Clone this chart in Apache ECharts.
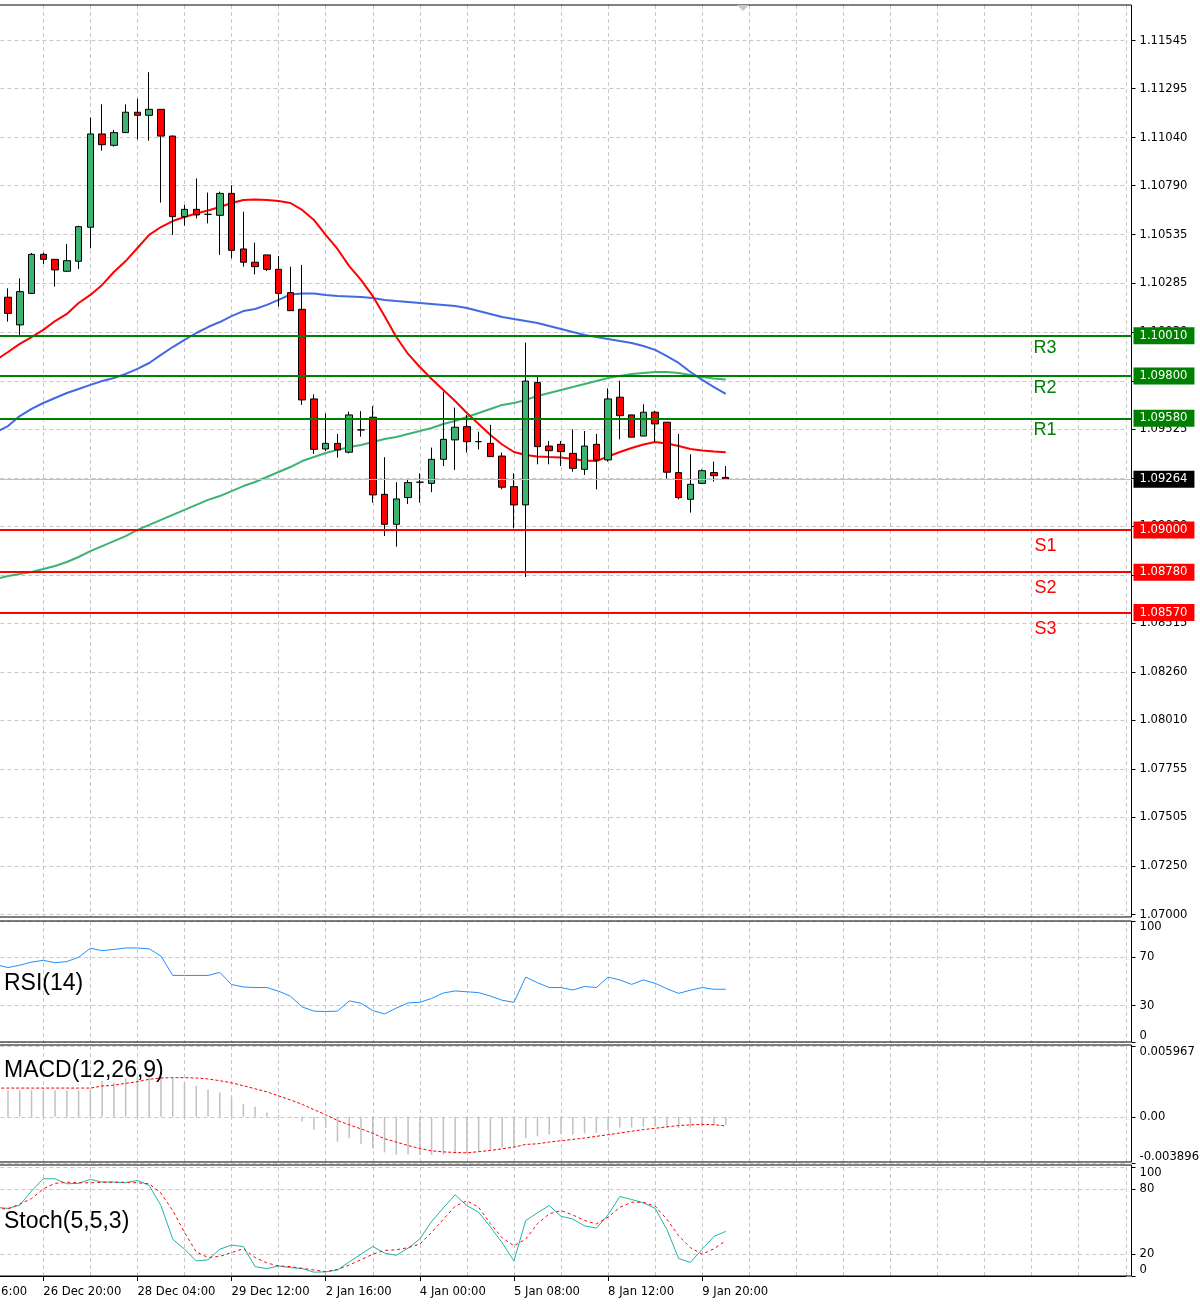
<!DOCTYPE html>
<html>
<head>
<meta charset="utf-8">
<script src="https://cdn.jsdelivr.net/npm/echarts@6/dist/echarts.min.js"></script>
<style>html,body{margin:0;padding:0;background:#fff}#c{width:1200px;height:1310px}</style>
</head>
<body>
<div id="c"></div>
<script>
// ---------------- DATA ----------------
// x axis: one category per 4H bar; bar k=0 is the first visible candle
const xLabels = ['22 Dec 16:00', '26 Dec 20:00', '28 Dec 04:00', '29 Dec 12:00', '2 Jan 16:00',
  '4 Jan 00:00', '5 Jan 08:00', '8 Jan 12:00', '9 Jan 20:00'];

// candles, k = 0..61
const candleOpen = [1.10210, 1.10066, 1.10230, 1.10433, 1.10407, 1.10345, 1.10397, 1.10574, 1.11059, 1.11000,
  1.11066, 1.11172, 1.11156, 1.11187, 1.11048, 1.10629, 1.10667, 1.10641, 1.10636, 1.10750,
  1.10461, 1.10392, 1.10430, 1.10355, 1.10234, 1.10147, 1.09681, 1.09421, 1.09450, 1.09404,
  1.09520, 1.09586, 1.09185, 1.09029, 1.09168, 1.09248, 1.09242, 1.09367, 1.09468, 1.09537,
  1.09459, 1.09450, 1.09384, 1.09225, 1.09130, 1.09766, 1.09436, 1.09445, 1.09398, 1.09315,
  1.09445, 1.09364, 1.09690, 1.09598, 1.09488, 1.09612, 1.09560, 1.09298, 1.09159, 1.09242,
  1.09298, 1.09273];
const candleClose = [1.10126, 1.10239, 1.10433, 1.10407, 1.10352, 1.10400, 1.10577, 1.11059, 1.11003, 1.11066,
  1.11172, 1.11156, 1.11187, 1.11048, 1.10629, 1.10667, 1.10638, 1.10641, 1.10750, 1.10454,
  1.10392, 1.10369, 1.10355, 1.10230, 1.10140, 1.09676, 1.09419, 1.09450, 1.09416, 1.09598,
  1.09520, 1.09182, 1.09029, 1.09161, 1.09246, 1.09248, 1.09367, 1.09471, 1.09534, 1.09459,
  1.09459, 1.09381, 1.09222, 1.09130, 1.09774, 1.09433, 1.09412, 1.09407, 1.09320, 1.09436,
  1.09364, 1.09681, 1.09594, 1.09482, 1.09612, 1.09551, 1.09300, 1.09168, 1.09237, 1.09308,
  1.09282, 1.09264];
const candleLow = [1.10083, 1.10014, 1.10227, 1.10383, 1.10265, 1.10341, 1.10357, 1.10464, 1.10972, 1.10993,
  1.11064, 1.11031, 1.11024, 1.10702, 1.10534, 1.10582, 1.10620, 1.10594, 1.10430, 1.10412,
  1.10369, 1.10329, 1.10346, 1.10161, 1.10140, 1.09650, 1.09395, 1.09410, 1.09376, 1.09398,
  1.09485, 1.09142, 1.08968, 1.08913, 1.09135, 1.09142, 1.09196, 1.09332, 1.09312, 1.09402,
  1.09419, 1.09381, 1.09211, 1.09008, 1.08755, 1.09341, 1.09341, 1.09332, 1.09303, 1.09286,
  1.09211, 1.09355, 1.09471, 1.09482, 1.09488, 1.09459, 1.09268, 1.09159, 1.09090, 1.09239,
  1.09251, 1.09260];
const candleHigh = [1.10256, 1.10308, 1.10440, 1.10442, 1.10409, 1.10487, 1.10582, 1.11144, 1.11213, 1.11080,
  1.11213, 1.11242, 1.11380, 1.11189, 1.11051, 1.10690, 1.10828, 1.10754, 1.10759, 1.10792,
  1.10655, 1.10494, 1.10430, 1.10424, 1.10369, 1.10378, 1.09705, 1.09606, 1.09499, 1.09615,
  1.09618, 1.09644, 1.09378, 1.09248, 1.09263, 1.09294, 1.09428, 1.09719, 1.09636, 1.09598,
  1.09511, 1.09546, 1.09402, 1.09294, 1.09974, 1.09800, 1.09462, 1.09462, 1.09523, 1.09514,
  1.09499, 1.09736, 1.09776, 1.09598, 1.09653, 1.09620, 1.09560, 1.09499, 1.09393, 1.09315,
  1.09355, 1.09332];

// moving averages, k = -1..61
const maRed = [1.09884, 1.09925, 1.09967, 1.10003, 1.10040, 1.10086, 1.10123, 1.10180, 1.10222, 1.10274,
  1.10341, 1.10398, 1.10466, 1.10534, 1.10575, 1.10606, 1.10627, 1.10645, 1.10661, 1.10679,
  1.10700, 1.10716, 1.10718, 1.10716, 1.10710, 1.10700, 1.10664, 1.10612, 1.10534, 1.10461,
  1.10372, 1.10300, 1.10216, 1.10112, 1.10003, 1.09915, 1.09847, 1.09785, 1.09728, 1.09670,
  1.09608, 1.09551, 1.09494, 1.09444, 1.09405, 1.09390, 1.09382, 1.09379, 1.09377, 1.09369,
  1.09361, 1.09358, 1.09382, 1.09405, 1.09426, 1.09444, 1.09457, 1.09449, 1.09436, 1.09421,
  1.09413, 1.09408, 1.09404];
const maBlue = [1.09509, 1.09540, 1.09592, 1.09629, 1.09660, 1.09686, 1.09712, 1.09733, 1.09754, 1.09774,
  1.09790, 1.09811, 1.09837, 1.09868, 1.09910, 1.09951, 1.09988, 1.10024, 1.10055, 1.10081,
  1.10112, 1.10138, 1.10149, 1.10170, 1.10196, 1.10224, 1.10229, 1.10229, 1.10222, 1.10216,
  1.10214, 1.10211, 1.10206, 1.10196, 1.10190, 1.10185, 1.10180, 1.10175, 1.10170, 1.10164,
  1.10154, 1.10138, 1.10123, 1.10107, 1.10097, 1.10086, 1.10076, 1.10060, 1.10045, 1.10029,
  1.10014, 1.10003, 1.09993, 1.09982, 1.09972, 1.09956, 1.09936, 1.09904, 1.09868, 1.09821,
  1.09780, 1.09743, 1.09707];
const maGreen = [1.08745, 1.08760, 1.08771, 1.08781, 1.08797, 1.08812, 1.08833, 1.08859, 1.08890, 1.08916,
  1.08942, 1.08968, 1.09000, 1.09026, 1.09052, 1.09078, 1.09104, 1.09130, 1.09156, 1.09176,
  1.09202, 1.09228, 1.09249, 1.09275, 1.09301, 1.09327, 1.09358, 1.09379, 1.09400, 1.09416,
  1.09431, 1.09442, 1.09457, 1.09473, 1.09483, 1.09499, 1.09514, 1.09530, 1.09551, 1.09566,
  1.09587, 1.09608, 1.09629, 1.09650, 1.09660, 1.09676, 1.09696, 1.09712, 1.09728, 1.09743,
  1.09759, 1.09774, 1.09790, 1.09800, 1.09811, 1.09816, 1.09821, 1.09821, 1.09816, 1.09806,
  1.09795, 1.09787, 1.09782];

// pivot levels and last price
const levelNames = ['R3', 'R2', 'R1', 'S1', 'S2', 'S3'];
const levelValues = [1.10010, 1.09800, 1.09580, 1.09000, 1.08780, 1.08570];
const lastPrice = 1.09264;

// price axis tick labels
const priceTicks = [1.07000, 1.07250, 1.07505, 1.07755, 1.08010, 1.08260, 1.08515, 1.08765, 1.09020, 1.09270,
  1.09525, 1.09775, 1.10030, 1.10285, 1.10535, 1.10790, 1.11040, 1.11295, 1.11545];

// RSI(14), k = -1..61
const rsiValues = [64, 61.5, 63.5, 66, 67.5, 65.5, 66.5, 70, 77.5, 75.5,
  76.5, 77.7, 77.7, 77, 71, 55, 55, 55, 55, 57.5,
  47.5, 45.5, 45, 45, 42, 37.9, 29, 25.5, 25.2, 25.5,
  34, 32, 26, 23.2, 28, 32.3, 32.8, 36, 40.5, 42.2,
  41.5, 40.8, 38, 34.5, 32.8, 53.6, 49, 45, 45, 43,
  45.9, 45, 53.6, 51.3, 47.6, 51.3, 48.5, 44, 40.2, 42.8,
  45, 43.6, 43.6];
const rsiTicks = [0, 30, 70, 100];

// MACD(12,26,9): main histogram k = 0..61, signal k = -1..61
const macdMain = [0.00222, 0.00222, 0.00222, 0.00222, 0.00222, 0.00222, 0.00222, 0.00226, 0.00301, 0.00290,
  0.00325, 0.00336, 0.00341, 0.00336, 0.00327, 0.00284, 0.00262, 0.00230, 0.00205, 0.00165,
  0.00108, 0.00085, 0.00037, 0.00014, 0.00003, -0.00040, -0.00110, -0.00095, -0.00210, -0.00180,
  -0.00230, -0.00265, -0.00300, -0.00320, -0.00318, -0.00320, -0.00322, -0.00318, -0.00310, -0.00305,
  -0.00290, -0.00280, -0.00262, -0.00250, -0.00180, -0.00165, -0.00150, -0.00148, -0.00150, -0.00140,
  -0.00135, -0.00110, -0.00090, -0.00090, -0.00085, -0.00080, -0.00090, -0.00095, -0.00090, -0.00080,
  -0.00072, -0.00068];
const macdSignal = [0.00242, 0.00242, 0.00242, 0.00242, 0.00242, 0.00242, 0.00242, 0.00242, 0.00242, 0.00259,
  0.00266, 0.00282, 0.00296, 0.00316, 0.00327, 0.00330, 0.00330, 0.00327, 0.00319, 0.00304,
  0.00286, 0.00262, 0.00236, 0.00210, 0.00176, 0.00142, 0.00105, 0.00060, 0.00017, -0.00031,
  -0.00068, -0.00102, -0.00139, -0.00185, -0.00213, -0.00242, -0.00267, -0.00287, -0.00296, -0.00301,
  -0.00304, -0.00294, -0.00284, -0.00270, -0.00256, -0.00233, -0.00228, -0.00213, -0.00202, -0.00191,
  -0.00179, -0.00165, -0.00151, -0.00137, -0.00122, -0.00108, -0.00097, -0.00085, -0.00074, -0.00068,
  -0.00064, -0.00067, -0.00077];
const macdTicks = [-0.003896, 0, 0.005967];

// Stochastic(5,5,3), k = -1..61
const stochMain = [63, 62, 65, 78, 89.2, 89.2, 84.6, 85, 88.6, 86.2,
  86.2, 85.5, 87.7, 83, 64.6, 33.8, 24.6, 13.8, 14.8, 24.6,
  28.3, 27, 8.6, 6.8, 9.2, 7.7, 6.8, 3.5, 3.8, 5.5,
  12.9, 20, 27.1, 21, 19, 25.5, 34, 50, 62.5, 74.5,
  64.6, 58.5, 45, 30.5, 13.8, 50.8, 58, 64.6, 54.8, 52.3,
  46, 44, 56, 73, 70.2, 67.1, 62, 42.6, 16, 12.5,
  24.6, 36.3, 40.9];
const stochSignal = [62, 61.5, 66, 71, 80, 85, 86, 85.5, 85.5, 86,
  86, 86, 85.5, 84.6, 76, 60, 40, 22, 17, 18,
  21.5, 25, 17, 12, 9.2, 8.6, 7, 5.5, 4, 6,
  10, 15, 20, 23.5, 24, 26, 29.2, 40, 52, 64,
  69, 63, 48, 35, 27.7, 33.8, 48, 57, 60, 56,
  51, 47.7, 54, 63, 67.7, 67.7, 64, 52, 36.9, 26,
  20, 25, 32.3];
const stochTicks = [0, 20, 80, 100];

// ---------------- LAYOUT ----------------
const FIRST_K = -6, LAST_K = 95;           // category range of the x axis
const N = LAST_K - FIRST_K + 1;
const LABEL_START_K = -5, LABEL_STEP = 8, GRID_STEP = 4;
const idx = k => k - FIRST_K;

const categories = [];
for (let k = FIRST_K; k <= LAST_K; k++) {
  const j = (k - LABEL_START_K) / LABEL_STEP;
  categories.push(Number.isInteger(j) && j >= 0 && j < xLabels.length ? xLabels[j] : '');
}
function pad(arr, startK) {
  const out = new Array(N).fill(null);
  arr.forEach((v, i) => { out[idx(startK + i)] = v; });
  return out;
}

const PLOT_LEFT = -62.6, PLOT_WIDTH = 1188.4;
const FRAME_LEFT = -2, FRAME_RIGHT = 1131.5;
const AXIS_OFFSET = FRAME_RIGHT - (PLOT_LEFT + PLOT_WIDTH);
const frames = [{top: 5, h: 912}, {top: 921, h: 121}, {top: 1045, h: 117}, {top: 1165, h: 111}];
const plots  = [{top: 5, h: 912}, {top: 921, h: 121}, {top: 1046, h: 117}, {top: 1167, h: 109}];

// main price scale: 1.11545 at y=40.5, 1.07000 at y=914.5
const PX = (1.11545 - 1.07) / (914.5 - 40.5);
const PRICE_MAX = 1.11545 + (40.5 - 5) * PX;
const PRICE_MIN = 1.07 - (917 - 914.5) * PX;

const FONT = 'DejaVu Sans';
const GRID_LINE = {color: '#c8c8c8', type: [4, 3], width: 1};
const AX_LABEL = {color: '#000', fontFamily: FONT, fontSize: 11.6};

const grids = [], xAxes = [], frameY = [];
const hasLabel = (i, v) => v !== '';
frames.forEach((f, p) => {
  // frame grid (border, pivot lines)
  grids.push({left: FRAME_LEFT, width: FRAME_RIGHT - FRAME_LEFT, top: f.top, height: f.h,
    outerBoundsMode: 'none', containLabel: false,
    show: true, borderColor: '#000', borderWidth: 1, backgroundColor: 'rgba(0,0,0,0)', z: 5});
  xAxes.push({type: 'value', gridIndex: grids.length - 1, min: 0, max: 1, show: false});
  frameY.push({type: 'value', gridIndex: grids.length - 1,
    min: p === 0 ? PRICE_MIN : 0, max: p === 0 ? PRICE_MAX : 1, show: false});
  // data grid
  const d = plots[p];
  grids.push({left: PLOT_LEFT, width: PLOT_WIDTH, top: d.top, height: d.h, show: false,
    outerBoundsMode: 'none', containLabel: false});
  const isBottom = p === 3;
  xAxes.push({
    type: 'category', gridIndex: grids.length - 1, data: categories, boundaryGap: false,
    axisLine: {show: isBottom, lineStyle: {color: '#000', width: 1}},
    axisTick: {show: isBottom, interval: hasLabel, length: 5, lineStyle: {color: '#000'}},
    axisLabel: Object.assign({show: isBottom, interval: hasLabel, align: 'left', margin: 10}, AX_LABEL),
    splitLine: {show: true, interval: (i) => (i - idx(LABEL_START_K)) % GRID_STEP === 0, lineStyle: GRID_LINE}
  });
});

function valueAxis(gridIndex, min, max, ticks, fmt, endAlign) {
  return {
    type: 'value', gridIndex, min, max, position: 'right', offset: AXIS_OFFSET,
    axisLine: {show: false},
    axisTick: {show: true, length: 4, customValues: ticks, lineStyle: {color: '#000'}},
    axisLabel: Object.assign({customValues: ticks, formatter: fmt, margin: 8,
      verticalAlignMinLabel: endAlign ? 'bottom' : 'middle',
      verticalAlignMaxLabel: endAlign ? 'top' : 'middle'}, AX_LABEL),
    splitLine: {show: true, lineStyle: GRID_LINE}
  };
}
const plotY = [
  valueAxis(1, PRICE_MIN, PRICE_MAX, priceTicks, v => v.toFixed(5), false),
  valueAxis(3, 0, 100, rsiTicks, v => String(v), true),
  valueAxis(5, macdTicks[0], macdTicks[2], macdTicks, v => v === 0 ? '0.00' : v.toFixed(6), true),
  valueAxis(7, 0, 100, stochTicks, v => String(v), true)
];
const yAll = [];
for (let p = 0; p < 4; p++) { yAll.push(frameY[p]); yAll.push(plotY[p]); }

// pivot markLines on the main frame grid
const mlData = [];
const BOX = {color: '#fff', padding: [3, 7, 2, 6], distance: [2, 0], fontFamily: FONT, fontSize: 11.6};
levelNames.forEach((name, i) => {
  const v = levelValues[i];
  const isR = name[0] === 'R';
  const c = isR ? '#008000' : '#ff0000';
  mlData.push({yAxis: v, lineStyle: {color: c, width: 2, type: 'solid'},
    label: Object.assign({show: true, position: 'end', formatter: v.toFixed(5), backgroundColor: c}, BOX)});
  mlData.push({yAxis: v, lineStyle: {color: 'rgba(0,0,0,0)', width: 1, type: 'solid'},
    label: {show: true, position: 'insideEndBottom', formatter: name, color: c,
      distance: [75, isR ? 3 : 7], fontFamily: 'Liberation Sans', fontSize: 18}});
});
mlData.push({yAxis: lastPrice, lineStyle: {color: '#c0c0c0', width: 1, type: 'solid'},
  label: Object.assign({show: true, position: 'end', formatter: lastPrice.toFixed(5), backgroundColor: '#000'}, BOX)});

const candleData = candleOpen.map((o, i) => [idx(i), o, candleClose[i], candleLow[i], candleHigh[i]]);

const line = (xi, data, color, width, type, z) => ({
  type: 'line', xAxisIndex: xi, yAxisIndex: xi, data, symbol: 'none', showSymbol: false,
  lineStyle: {color, width, type: type || 'solid'}, z: z || 2, silent: true
});

const option = {
  animation: false,
  backgroundColor: '#fff',
  textStyle: {fontFamily: FONT},
  grid: grids,
  xAxis: xAxes,
  yAxis: yAll,
  title: [
    {text: 'RSI(14)', left: 4, top: 972, padding: 0},
    {text: 'MACD(12,26,9)', left: 4, top: 1059, padding: 0},
    {text: 'Stoch(5,5,3)', left: 4, top: 1210, padding: 0}
  ].map(t => Object.assign(t, {textStyle: {fontFamily: 'Liberation Sans', fontSize: 23, fontWeight: 'normal', color: '#000'}})),
  graphic: [{type: 'polygon', shape: {points: [[737, 5], [749, 5], [743, 11]]}, style: {fill: '#c8c8c8'}, z: 10}],
  series: [
    line(1, pad(maGreen, -1), '#3cb371', 2, null, 2),
    line(1, pad(maBlue, -1), '#4169e1', 2, null, 2),
    line(1, pad(maRed, -1), '#ff0000', 2, null, 2),
    {
      type: 'candlestick', xAxisIndex: 1, yAxisIndex: 1, data: candleData,
      encode: {x: 0, y: [1, 2, 3, 4]}, barWidth: 7, z: 3, silent: true,
      itemStyle: {color: '#3cb371', color0: '#ff0000', borderColor: '#000', borderColor0: '#000',
        borderColorDoji: '#000', borderWidth: 1}
    },
    {
      type: 'line', xAxisIndex: 0, yAxisIndex: 0, data: [], symbol: 'none', z: 4,
      markLine: {silent: true, precision: 5, symbol: ['none', 'none'], animation: false, data: mlData}
    },
    line(3, pad(rsiValues, -1), '#1e90ff', 1),
    {
      type: 'bar', xAxisIndex: 5, yAxisIndex: 5, data: pad(macdMain, 0), barWidth: 1.5,
      itemStyle: {color: '#c0c0c0'}, silent: true, z: 1
    },
    line(5, pad(macdSignal, -1), '#ff0000', 1, [3, 2]),
    line(7, pad(stochMain, -1), '#20b2aa', 1),
    line(7, pad(stochSignal, -1), '#ff0000', 1, [3, 3])
  ]
};

const chart = echarts.init(document.getElementById('c'), null, {renderer: 'canvas', width: 1200, height: 1310});
chart.setOption(option);
</script>
</body>
</html>
